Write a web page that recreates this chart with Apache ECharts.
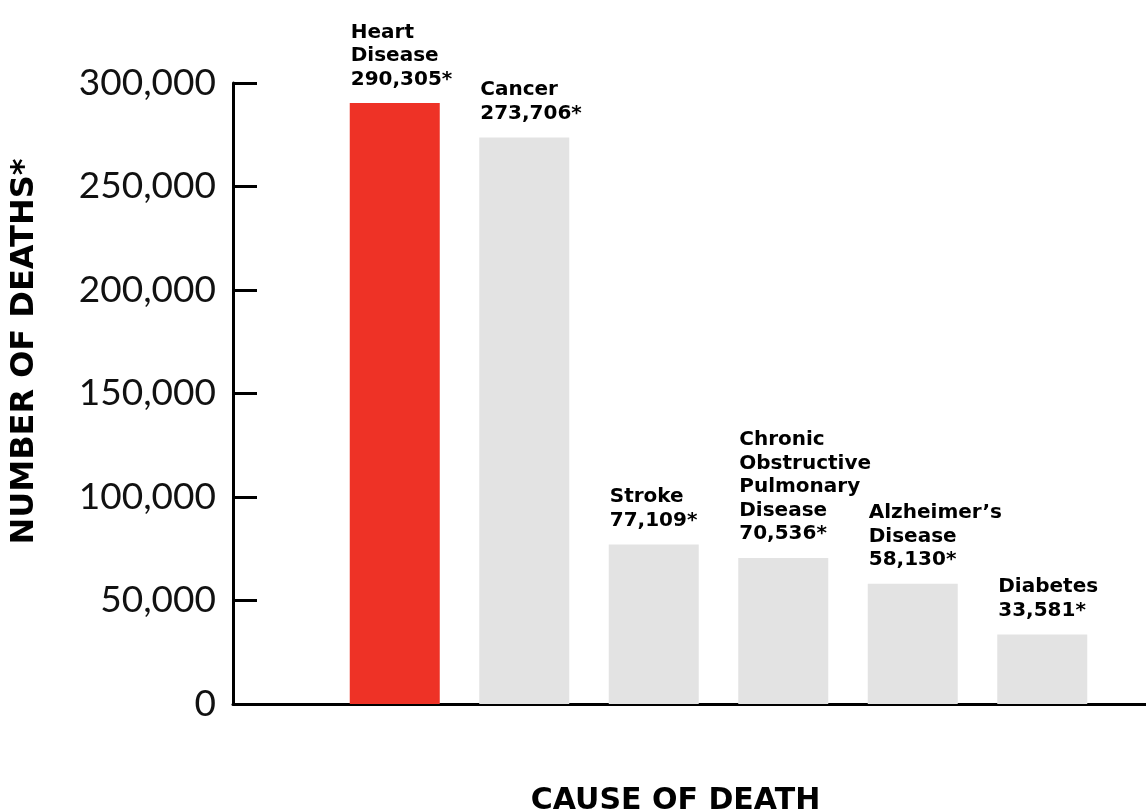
<!DOCTYPE html>
<html>
<head>
<meta charset="utf-8">
<script src="https://cdn.jsdelivr.net/npm/echarts@6/dist/echarts.min.js"></script>
<style>html,body{margin:0;padding:0;background:#fff;}#c{width:1146px;height:811px;}</style>
</head>
<body>
<div id="c"></div>
<script>
var categories = ["Heart\nDisease", "Cancer", "Stroke", "Chronic\nObstructive\nPulmonary\nDisease", "Alzheimer\u2019s\nDisease", "Diabetes"];
var deaths = [290305, 273706, 77109, 70536, 58130, 33581];
var yTicks = [0, 50000, 100000, 150000, 200000, 250000, 300000];
var highlightIndex = 0;

var RED = '#ee3226', GRAY = '#e3e3e3';
function fmt(v){ return v.toString().replace(/\B(?=(\d{3})+(?!\d))/g, ','); }

var chart = echarts.init(document.getElementById('c'), null, {renderer: 'canvas'});
chart.setOption({
  animation: false,
  backgroundColor: '#fff',
  grid: [
    {left: 330, right: 39, top: 83, bottom: 107, outerBoundsMode: 'none', containLabel: false},
    {left: 233, right: 0, top: 83, bottom: 107, outerBoundsMode: 'none', containLabel: false}
  ],
  xAxis: [
    {type: 'category', gridIndex: 0, data: categories,
     axisLine: {show: false}, axisTick: {show: false}, axisLabel: {show: false}},
    {type: 'value', gridIndex: 1, min: 0, max: 1, position: 'bottom',
     splitLine: {show: false},
     axisLine: {show: true, onZero: false, lineStyle: {color: '#000', width: 3}}, axisTick: {show: false}, axisLabel: {show: false},
     name: 'CAUSE OF DEATH', nameLocation: 'middle', nameGap: 82,
     nameTextStyle: {fontFamily: 'DejaVu Sans', fontWeight: 'bold', fontSize: 30, color: '#000', padding: [0, 28, 0, 0]}}
  ],
  yAxis: [
    {type: 'value', gridIndex: 0, min: yTicks[0], max: yTicks[yTicks.length-1], interval: yTicks[1]-yTicks[0],
     offset: 97,
     splitLine: {show: false},
     axisLine: {show: true, lineStyle: {color: '#000', width: 3}},
     axisTick: {show: true, inside: true, length: 24, lineStyle: {color: '#000', width: 3}},
     axisLabel: {margin: 17, fontFamily: 'Lato', fontWeight: 'normal', fontSize: 37, color: '#111', formatter: fmt},
     name: 'NUMBER OF DEATHS*', nameLocation: 'middle', nameRotate: 90, nameGap: 192,
     nameTextStyle: {fontFamily: 'DejaVu Sans', fontWeight: 'bold', fontSize: 32, color: '#000', padding: [0, 0, 0, 84]}},
    {type: 'value', gridIndex: 1, show: false, min: 0, max: 1}
  ],
  series: [{
    type: 'bar', xAxisIndex: 0, yAxisIndex: 0, barWidth: 90,
    data: deaths.map(function(v, i){ return {value: v, itemStyle: {color: i === highlightIndex ? RED : GRAY}}; }),
    label: {
      show: true, position: [1, -12], align: 'left', verticalAlign: 'bottom',
      fontFamily: 'DejaVu Sans', fontWeight: 'bold', fontSize: 20, lineHeight: 23.5, color: '#000',
      formatter: function(p){ return categories[p.dataIndex] + '\n' + fmt(p.value) + '*'; }
    }
  }]
});
</script>
</body>
</html>
